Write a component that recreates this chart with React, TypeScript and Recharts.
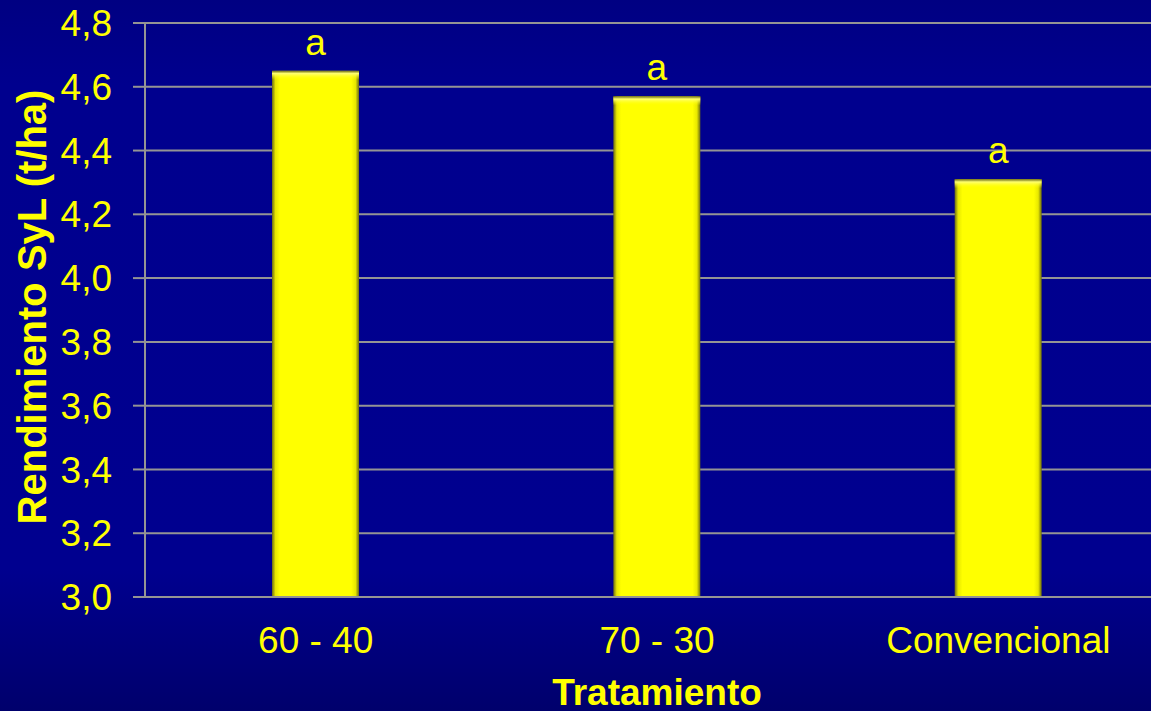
import { Bar, BarChart, CartesianGrid, LabelList, XAxis, YAxis } from "recharts";

const treatments = ["60 - 40", "70 - 30", "Convencional"];
const yieldValues = [4.65, 4.57, 4.31];
const groupLetters = ["a", "a", "a"];
const yTicks = [3.0, 3.2, 3.4, 3.6, 3.8, 4.0, 4.2, 4.4, 4.6, 4.8];

const data = treatments.map((name, i) => ({
  name,
  value: yieldValues[i],
  letter: groupLetters[i],
}));

const FONT = "'Liberation Sans', Arial, sans-serif";
const YELLOW = "#ffff00";
const GRID = "#949494";

function BevelBar(props: any) {
  const { x, y, width, height } = props;
  if (!height || height <= 0) return null;
  return (
    <g>
      <rect x={x} y={y} width={width} height={height} fill="url(#barSides)" />
      <rect x={x} y={y} width={width} height={Math.min(9, height)} fill="url(#barTop)" />
    </g>
  );
}

function YTitle(props: any) {
  const vb = props.viewBox || {};
  const cx = vb.x + 46;
  const cy = vb.y + vb.height / 2 - 3;
  return (
    <text
      x={cx}
      y={cy}
      transform={`rotate(-90, ${cx}, ${cy})`}
      textAnchor="middle"
      fill={YELLOW}
      fontSize={40}
      fontWeight="bold"
      fontFamily={FONT}
    >
      Rendimiento SyL (t/ha)
    </text>
  );
}

export default function App() {
  return (
    <div
      style={{
        position: "absolute",
        left: 0,
        top: 0,
        width: 1151,
        height: 711,
        overflow: "hidden",
        background:
          "linear-gradient(to bottom, #000082 0%, #00008e 12%, #00008f 80%, #00006c 100%)",
      }}
    >
      <BarChart
        width={1169}
        height={711}
        data={data}
        margin={{ top: 23, right: 0, bottom: 0, left: 0 }}
      >
        <defs>
          <linearGradient id="barSides" x1="0" y1="0" x2="1" y2="0">
            <stop offset="0%" stopColor="#6b6b14" />
            <stop offset="4%" stopColor="#e8e800" />
            <stop offset="9%" stopColor={YELLOW} />
            <stop offset="91%" stopColor={YELLOW} />
            <stop offset="96%" stopColor="#e8e800" />
            <stop offset="100%" stopColor="#6b6b14" />
          </linearGradient>
          <linearGradient id="barTop" x1="0" y1="0" x2="0" y2="1">
            <stop offset="0%" stopColor="#6b6b14" stopOpacity={1} />
            <stop offset="30%" stopColor="#ffff70" stopOpacity={1} />
            <stop offset="100%" stopColor={YELLOW} stopOpacity={0} />
          </linearGradient>
        </defs>
        <CartesianGrid vertical={false} stroke={GRID} strokeWidth={2} />
        <XAxis
          dataKey="name"
          axisLine={{ stroke: GRID, strokeWidth: 2 }}
          tickLine={false}
          tickSize={0}
          tickMargin={30}
          height={114}
          tick={{ fill: YELLOW, fontSize: 37, fontFamily: FONT }}
          label={{
            value: "Tratamiento",
            position: "insideBottom",
            offset: 6,
            fill: YELLOW,
            fontSize: 37,
            fontWeight: "bold",
            fontFamily: FONT,
          }}
        />
        <YAxis
          width={145}
          domain={[3, 4.8]}
          ticks={yTicks}
          interval={0}
          allowDataOverflow
          axisLine={{ stroke: GRID, strokeWidth: 2 }}
          tickLine={{ stroke: GRID, strokeWidth: 2 }}
          tickSize={12}
          tickMargin={21}
          tickFormatter={(v: number) => v.toFixed(1).replace(".", ",")}
          tick={{ fill: YELLOW, fontSize: 37, fontFamily: FONT }}
          label={<YTitle />}
        />
        <Bar
          dataKey="value"
          barSize={87}
          fill={YELLOW}
          shape={<BevelBar />}
          isAnimationActive={false}
        >
          <LabelList
            dataKey="letter"
            position="top"
            offset={16}
            fill={YELLOW}
            fontSize={37}
            fontFamily={FONT}
          />
        </Bar>
      </BarChart>
    </div>
  );
}
